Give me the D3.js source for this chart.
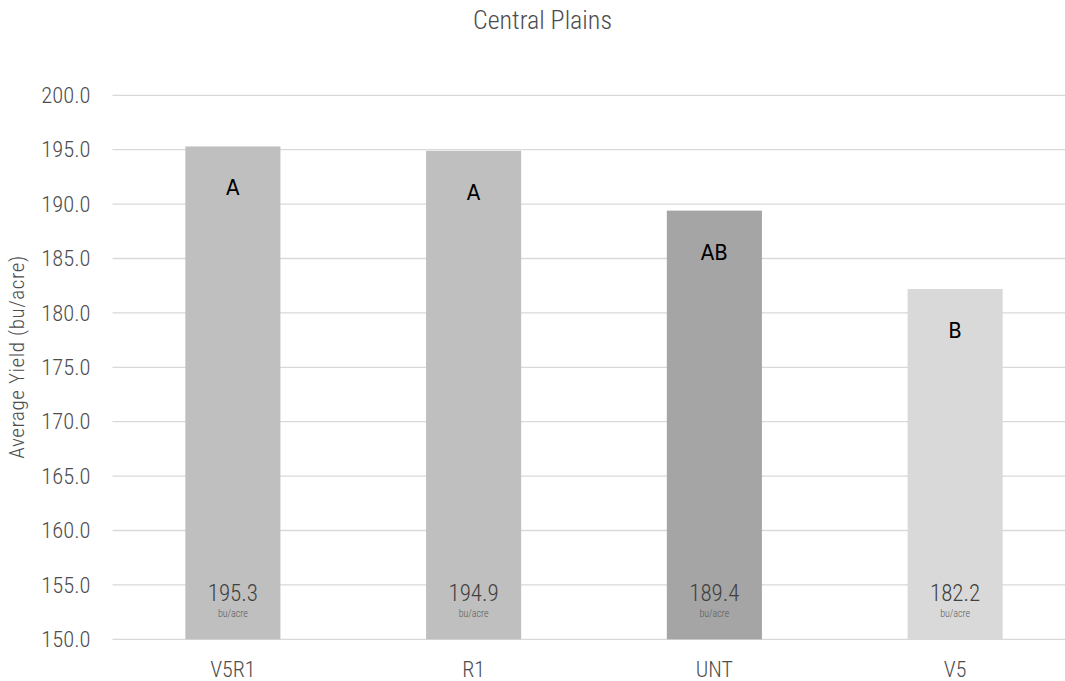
<!DOCTYPE html>
<html>
<head>
<meta charset="utf-8">
<script src="https://cdn.jsdelivr.net/npm/d3@7"></script>
<style>
  html, body { margin: 0; padding: 0; background: #fff; }
  svg { display: block; }
</style>
</head>
<body>
<div id="chart"></div>
<script>
const categories = ["V5R1", "R1", "UNT", "V5"];
const yields = [195.3, 194.9, 189.4, 182.2];
const letters = ["A", "A", "AB", "B"];
const barColors = ["#bfbfbf", "#bfbfbf", "#a5a5a5", "#d9d9d9"];
const yTicks = [150, 155, 160, 165, 170, 175, 180, 185, 190, 195, 200];
const titleText = "Central Plains";
const yAxisTitle = "Average Yield (bu/acre)";
const unitText = "bu/acre";

const W = 1065, H = 681;
const plot = { left: 112.5, right: 1075.5, top: 95.3, bottom: 639.3 };
const FONT = "'Liberation Sans Narrow', 'Roboto Condensed', 'Arial Narrow', 'Liberation Sans', sans-serif";
const TEXT = "#4d4d4d";

const svg = d3.select("#chart").append("svg")
  .attr("width", W).attr("height", H)
  .style("font-family", FONT)
  .style("font-weight", 300);

const x = d3.scaleBand().domain(categories)
  .range([plot.left, plot.right]).paddingInner(0.605).paddingOuter(0.3025);
const y = d3.scaleLinear().domain([150, 200]).range([plot.bottom, plot.top]);

// gridlines
svg.append("g").selectAll("line").data(yTicks).join("line")
  .attr("x1", plot.left).attr("x2", plot.right)
  .attr("y1", d => y(d)).attr("y2", d => y(d))
  .attr("stroke", "#d9d9d9").attr("stroke-width", 1.3);

// y axis labels
const yAxis = d3.axisLeft(y).tickValues(yTicks).tickFormat(d3.format(".1f")).tickSize(0).tickPadding(22);
const ya = svg.append("g").attr("transform", `translate(${plot.left},0)`).call(yAxis);
ya.select(".domain").remove();
ya.selectAll("text").attr("fill", TEXT).style("font-size", "22.5px")
  .style("font-family", FONT).style("font-weight", 300);

// bars
svg.append("g").selectAll("rect").data(categories).join("rect")
  .attr("x", d => x(d)).attr("width", x.bandwidth())
  .attr("y", (d, i) => y(yields[i]))
  .attr("height", (d, i) => y(150) - y(yields[i]))
  .attr("fill", (d, i) => barColors[i]);

// significance letters
svg.append("g").selectAll("text").data(categories).join("text")
  .attr("x", d => x(d) + x.bandwidth() / 2)
  .attr("y", (d, i) => y(yields[i]) + 49)
  .attr("text-anchor", "middle")
  .style("font-family", "'DejaVu Sans Condensed', 'DejaVu Sans', sans-serif")
  .style("font-stretch", "condensed")
  .style("font-weight", 400)
  .style("font-size", "22px")
  .attr("fill", "#000")
  .text((d, i) => letters[i]);

// value labels
svg.append("g").selectAll("text").data(categories).join("text")
  .attr("x", d => x(d) + x.bandwidth() / 2)
  .attr("y", y(150) - 38)
  .attr("text-anchor", "middle")
  .attr("fill", "#404040")
  .style("font-size", "23px")
  .text((d, i) => yields[i].toFixed(1));

svg.append("g").selectAll("text").data(categories).join("text")
  .attr("x", d => x(d) + x.bandwidth() / 2)
  .attr("y", y(150) - 22)
  .attr("text-anchor", "middle")
  .attr("fill", "#595959")
  .style("font-size", "10px")
  .text(unitText);

// x axis labels
const xAxis = d3.axisBottom(x).tickSize(0).tickPadding(22);
const xa = svg.append("g").attr("transform", `translate(0,${plot.bottom})`).call(xAxis);
xa.select(".domain").remove();
xa.selectAll("text").attr("fill", TEXT).style("font-size", "22px")
  .style("font-family", FONT).style("font-weight", 300);

// title
svg.append("text")
  .attr("x", 542.5).attr("y", 29)
  .attr("text-anchor", "middle")
  .attr("fill", TEXT)
  .style("font-size", "26px")
  .text(titleText);

// y axis title
svg.append("text")
  .attr("transform", `translate(24,357) rotate(-90)`)
  .attr("text-anchor", "middle")
  .attr("fill", TEXT)
  .style("font-size", "21px")
  .style("letter-spacing", "0.6px")
  .text(yAxisTitle);
</script>
</body>
</html>
